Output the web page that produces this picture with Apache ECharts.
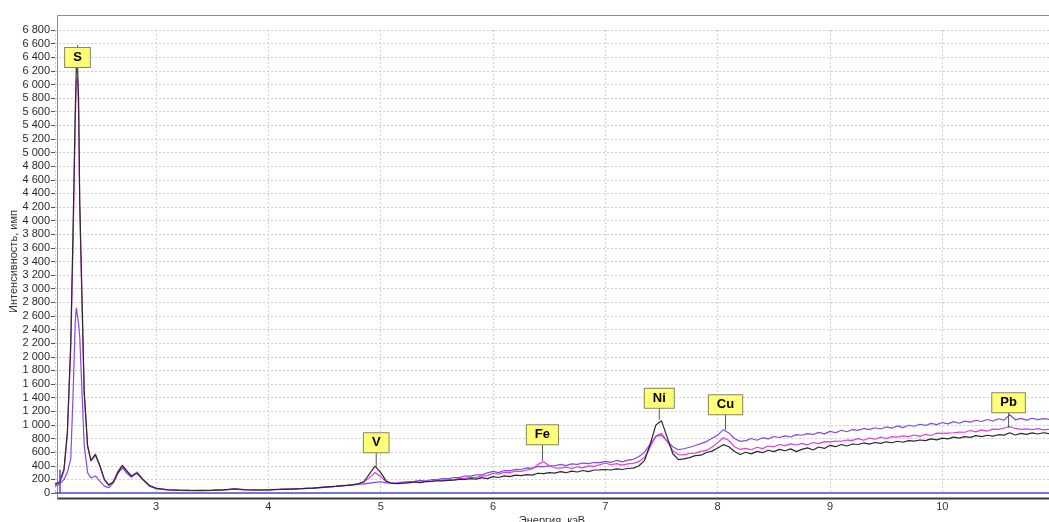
<!DOCTYPE html>
<html>
<head>
<meta charset="utf-8">
<script src="https://cdn.jsdelivr.net/npm/echarts@6/dist/echarts.min.js"></script>
<style>html,body{margin:0;padding:0;background:#fff}#c{width:1049px;height:522px}</style>
</head>
<body>
<div id="c"></div>
<script>
// Energy, keV
const energy = [
  2.10, 2.14, 2.18, 2.21, 2.24, 2.26, 2.28, 2.29, 2.30, 2.31, 2.32, 2.34, 2.36, 2.39, 2.42, 2.46, 2.50, 2.54, 2.58, 2.62, 2.66, 2.70, 2.74, 2.78, 2.83, 2.88, 2.94,
  3.0, 3.1, 3.2, 3.3, 3.4, 3.5, 3.6, 3.7, 3.8, 3.9, 4.0, 4.1, 4.2, 4.3, 4.4, 4.5, 4.6, 4.7,
  4.75, 4.80, 4.85, 4.90, 4.95, 5.00, 5.05, 5.10, 5.15, 5.20,
  5.25, 5.30, 5.35, 5.40, 5.45, 5.50, 5.55, 5.60, 5.65, 5.70,
  5.75, 5.80, 5.85, 5.90, 5.95, 6.00, 6.05, 6.10, 6.15, 6.20,
  6.25, 6.30, 6.35, 6.40, 6.45, 6.50, 6.55, 6.60, 6.65, 6.70,
  6.75, 6.80, 6.85, 6.90, 6.95, 7.00, 7.05, 7.10, 7.15, 7.20,
  7.25, 7.30, 7.35, 7.40, 7.45, 7.50, 7.55, 7.60, 7.65, 7.70,
  7.75, 7.80, 7.85, 7.90, 7.95, 8.00, 8.05, 8.10, 8.15, 8.20,
  8.25, 8.30, 8.35, 8.40, 8.45, 8.50, 8.55, 8.60, 8.65, 8.70,
  8.75, 8.80, 8.85, 8.90, 8.95, 9.00, 9.05, 9.10, 9.15, 9.20,
  9.25, 9.30, 9.35, 9.40, 9.45, 9.50, 9.55, 9.60, 9.65, 9.70,
  9.75, 9.80, 9.85, 9.90, 9.95, 10.00, 10.05, 10.10, 10.15, 10.20,
  10.25, 10.30, 10.35, 10.40, 10.45, 10.50, 10.55, 10.60, 10.65, 10.70,
  10.75, 10.80, 10.85, 10.90, 10.95
];

// Intensity, counts — black spectrum
const blackCounts = [
  130, 160, 350, 900, 2200, 3800, 5600, 6250, 6300, 5800, 4300, 2900, 1500, 700, 480, 570, 400, 200, 120, 160, 300, 400, 320, 250, 290, 200, 110,
  70, 48, 42, 38, 36, 40, 45, 62, 48, 44, 47, 52, 58, 63, 72, 85, 98, 112,
  120, 135, 165, 280, 395, 300, 175, 140, 138, 145,
  150, 162, 152, 168, 170, 180, 178, 185, 188, 200,
  198, 210, 205, 225, 212, 240, 228, 252, 240, 262,
  255, 270, 262, 290, 285, 298, 292, 315, 298, 322,
  308, 330, 315, 338, 340, 345, 338, 355, 345, 360,
  365, 400, 480, 720, 1000, 1060, 820, 580, 490, 500,
  520, 548, 555, 595, 615, 660, 710, 680, 610, 565,
  598, 575, 612, 592, 628, 608, 640, 620, 648, 608,
  640, 662, 632, 675, 655, 700, 680, 712, 690, 720,
  712, 735, 718, 742, 728, 752, 738, 760, 745, 770,
  762, 778, 770, 795, 780, 805, 795, 820, 805, 828,
  818, 842, 828, 848, 835, 856, 850, 885, 852, 875,
  860, 882, 866, 885, 872
];

// magenta spectrum
const magentaCounts = [
  110, 140, 320, 850, 2100, 3600, 5400, 6050, 6100, 5600, 4200, 2800, 1450, 680, 470, 550, 390, 190, 110, 170, 320, 410, 330, 240, 310, 210, 110,
  72, 50, 40, 40, 38, 42, 48, 58, 50, 46, 50, 55, 60, 66, 75, 88, 100, 115,
  125, 135, 160, 230, 300, 240, 165, 140, 142, 150,
  155, 165, 158, 175, 172, 190, 186, 198, 195, 215,
  212, 232, 228, 252, 255, 290, 278, 305, 298, 322,
  318, 338, 355, 420, 460, 400, 370, 365, 378, 362,
  385, 370, 398, 390, 415, 440, 415, 432, 410, 428,
  435, 465, 520, 680, 840, 875, 760, 620, 565, 560,
  580, 585, 612, 625, 675, 740, 812, 770, 680, 640,
  655, 635, 672, 652, 690, 680, 712, 695, 722, 705,
  728, 708, 742, 725, 755, 750, 762, 760, 778, 772,
  798, 775, 808, 790, 820, 800, 828, 822, 838, 828,
  852, 832, 862, 845, 878, 875, 880, 885, 895, 892,
  918, 898, 928, 910, 938, 935, 955, 975, 948, 935,
  942, 930, 945, 928, 935
];

// violet spectrum
const violetCounts = [
  100, 130, 200, 300, 500, 1400, 2500, 2720, 2600, 2480, 2300, 1500, 700, 300, 220, 250, 170, 100, 80, 150, 290, 370, 290, 230, 300, 200, 100,
  62, 45, 40, 36, 38, 40, 46, 55, 47, 45, 48, 54, 58, 64, 72, 84, 96, 110,
  118, 125, 135, 145, 155, 165, 150, 145, 150, 160,
  168, 170, 185, 175, 195, 196, 210, 208, 228, 226,
  250, 248, 268, 265, 295, 317, 300, 330, 325, 348,
  345, 368, 365, 392, 388, 398, 400, 420, 402, 428,
  420, 440, 432, 448, 445, 464, 450, 478, 458, 482,
  495, 535, 600, 720, 830, 850, 760, 680, 636, 650,
  672, 698, 725, 755, 805, 850, 930, 880, 800, 758,
  770, 800, 775, 812, 795, 830, 815, 840, 822, 858,
  848, 872, 860, 890, 868, 905, 885, 922, 900, 932,
  920, 948, 930, 958, 940, 970, 952, 985, 960, 995,
  980, 1010, 992, 1022, 1005, 1035, 1015, 1048, 1025, 1055,
  1040, 1068, 1050, 1080, 1058, 1090, 1070, 1150, 1075, 1095,
  1070, 1098, 1078, 1092, 1080
];

// Element markers
const markerNames  = ['S', 'V', 'Fe', 'Ni', 'Cu', 'Pb'];
const markerEnergy = [2.30, 4.96, 6.44, 7.48, 8.07, 10.59];
const markerBase   = [6200, 390, 470, 1076, 930, 960];
const markerTop    = [6580, 738, 856, 1391, 1296, 1325];
const markerBox    = [6397, 738, 856, 1391, 1296, 1325];

// Blue reference marker on the zero line
const refEnergy = 2.14;
const refHeight = 340;

const pairs = arr => energy.map((e, i) => [e, arr[i]]);
const fmtThousands = v => String(v).replace(/\B(?=(\d{3})+(?!\d))/g, ' ');

const chart = echarts.init(document.getElementById('c'), null, {renderer: 'canvas'});
const FONT = 'Liberation Sans, Arial, sans-serif';

chart.setOption({
  animation: false,
  backgroundColor: '#ffffff',
  grid: {left: 55, right: 0, top: 30, bottom: 29, containLabel: false, outerBoundsMode: 'none'},
  graphic: [
    {
      type: 'rect', left: 55, top: 13, z: -10, silent: true,
      shape: {width: 1000, height: 483},
      style: {fill: 'none', stroke: '#8c8c8c', lineWidth: 1}
    },
    {
      type: 'line', left: 55, top: 496, z: 50, silent: true,
      shape: {x1: 0, y1: 0, x2: 994, y2: 0},
      style: {stroke: '#3a3a3a', lineWidth: 2}
    }
  ],
  xAxis: {
    type: 'value', min: 2.1, max: 10.95, minInterval: 1, maxInterval: 1,
    offset: 3,
    name: 'Энергия, кэВ', nameLocation: 'middle', nameGap: 19, nameMoveOverlap: false,
    nameTextStyle: {fontFamily: FONT, fontSize: 11, color: '#333'},
    axisLine: {show: false},
    axisTick: {show: false},
    axisLabel: {
      fontFamily: FONT, fontSize: 11, color: '#333', margin: 5,
      formatter: v => (Math.abs(v - Math.round(v)) < 1e-9 ? String(Math.round(v)) : '')
    },
    splitLine: {show: true, lineStyle: {color: '#cfcfcf', type: [2, 2], width: 1}}
  },
  yAxis: {
    type: 'value', min: 0, max: 6800, interval: 200,
    name: 'Интенсивность, имп', nameLocation: 'middle', nameGap: 36, nameRotate: 90, nameMoveOverlap: false,
    nameTextStyle: {fontFamily: FONT, fontSize: 11, color: '#333'},
    axisLine: {show: false},
    axisTick: {show: true, length: 4, lineStyle: {color: '#555'}},
    axisLabel: {fontFamily: FONT, fontSize: 11, color: '#2a2a2a', margin: 5, formatter: fmtThousands},
    splitLine: {show: true, lineStyle: {color: '#cfcfcf', type: [2, 2], width: 1}}
  },
  series: [
    {
      type: 'line', name: 'violet', data: pairs(violetCounts), showSymbol: false, symbol: 'none',
      lineStyle: {color: '#8148ea', width: 1.2}, z: 2
    },
    {
      type: 'line', name: 'magenta', data: pairs(magentaCounts), showSymbol: false, symbol: 'none',
      lineStyle: {color: '#e03ce0', width: 1.2}, z: 3
    },
    {
      type: 'line', name: 'black', data: pairs(blackCounts), showSymbol: false, symbol: 'none',
      lineStyle: {color: '#2a2a2a', width: 1.2}, z: 4,
      markLine: {
        silent: true, symbol: 'none', label: {show: false},
        lineStyle: {color: '#4b4bd0', type: 'solid', width: 1.5},
        data: [
          {yAxis: 0},
          [{coord: [refEnergy, 0]}, {coord: [refEnergy, refHeight]}]
        ]
      }
    },
    {
      type: 'custom', name: 'markers', z: 10, clip: false,
      data: markerEnergy.map((e, i) => [e, markerBase[i], markerTop[i], markerBox[i]]),
      renderItem: (params, api) => {
        const e = api.value(0);
        const p0 = api.coord([e, api.value(1)]);
        const p1 = api.coord([e, api.value(2)]);
        const pb = api.coord([e, api.value(3)]);
        return {
          type: 'group',
          children: [
            {type: 'line', shape: {x1: p0[0], y1: p0[1], x2: p1[0], y2: p1[1]},
             style: {stroke: '#555', lineWidth: 1}},
            {type: 'text', x: pb[0], y: pb[1],
             style: {
               text: markerNames[params.dataIndex], font: 'bold 13px ' + FONT, fill: '#000',
               align: 'center', verticalAlign: 'middle',
               backgroundColor: '#ffff78', borderColor: '#858560', borderWidth: 1, padding: [3, 8]
             }}
          ]
        };
      }
    }
  ]
});
</script>
</body>
</html>
